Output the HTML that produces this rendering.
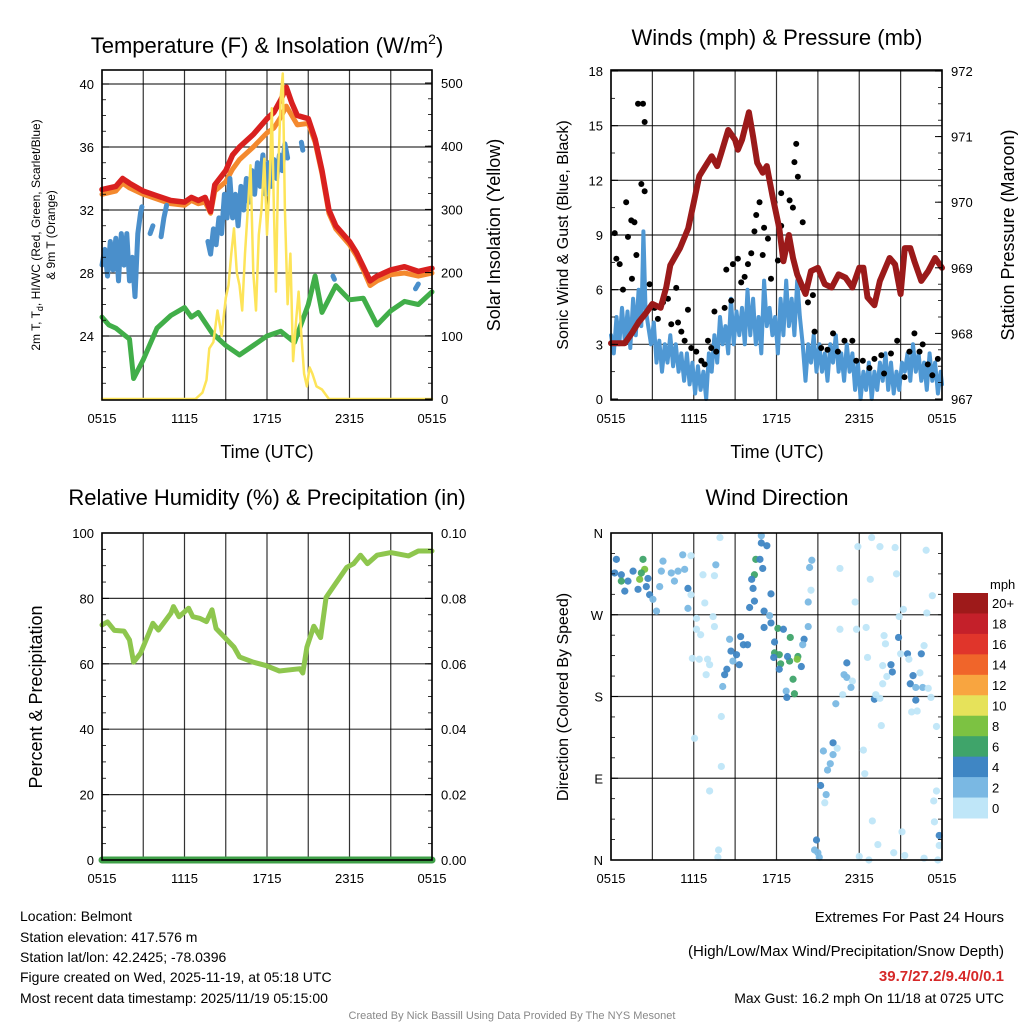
<!DOCTYPE html>
<html><head><meta charset="utf-8"><style>
html,body{margin:0;padding:0;background:#fff}
svg{display:block;font-family:"Liberation Sans",sans-serif}
</style></head><body>
<svg id="c" width="1024" height="1024" viewBox="0 0 1024 1024" xmlns="http://www.w3.org/2000/svg">
<rect width="1024" height="1024" fill="#fff"/>
<g font-size="22" text-anchor="middle" fill="#000">
<text x="267" y="53">Temperature (F) &amp; Insolation (W/m<tspan dy="-9" font-size="14">2</tspan><tspan dy="9">)</tspan></text>
<text x="777" y="45">Winds (mph) &amp; Pressure (mb)</text>
<text x="267" y="505">Relative Humidity (%) &amp; Precipitation (in)</text>
<text x="777" y="505">Wind Direction</text>
</g>
<g font-size="18" text-anchor="middle">
<text x="267" y="458">Time (UTC)</text>
<text x="777" y="458">Time (UTC)</text>
<text transform="translate(43,235) rotate(-90)" font-size="12"><tspan x="0" dy="-3">2m T, T<tspan font-size="9" dy="3">d</tspan><tspan dy="-3">, HI/WC (Red, Green, Scarlet/Blue)</tspan></tspan><tspan x="0" dy="15">&amp; 9m T (Orange)</tspan></text>
<text transform="translate(500,235) rotate(-90)">Solar Insolation (Yellow)</text>
<text transform="translate(568,235) rotate(-90)" font-size="16">Sonic Wind &amp; Gust (Blue, Black)</text>
<text transform="translate(1014,235) rotate(-90)">Station Pressure (Maroon)</text>
<text transform="translate(42,697) rotate(-90)">Percent &amp; Precipitation</text>
<text transform="translate(568,697) rotate(-90)" font-size="16">Direction (Colored By Speed)</text>
</g>
<g id="p1"></g>
<g id="p2"></g>
<g id="p3"></g>
<g id="p4"></g>
<g id="cb"></g>
<g font-size="14" fill="#000">
<text x="20" y="921">Location: Belmont</text>
<text x="20" y="942">Station elevation: 417.576 m</text>
<text x="20" y="962">Station lat/lon: 42.2425; -78.0396</text>
<text x="20" y="982">Figure created on Wed, 2025-11-19, at 05:18 UTC</text>
<text x="20" y="1003">Most recent data timestamp: 2025/11/19 05:15:00</text>
</g>
<g font-size="15" text-anchor="end">
<text x="1004" y="922">Extremes For Past 24 Hours</text>
<text x="1004" y="956">(High/Low/Max Wind/Precipitation/Snow Depth)</text>
<text x="1004" y="981" fill="#d62828" font-weight="bold">39.7/27.2/9.4/0/0.1</text>
<text x="1004" y="1003" font-size="14">Max Gust: 16.2 mph On 11/18 at 0725 UTC</text>
</g>
<text x="512" y="1019" font-size="11" fill="#888" text-anchor="middle">Created By Nick Bassill Using Data Provided By The NYS Mesonet</text>
</svg>
<script>
// ---------- DATA ----------
const xTickLabels = ["0515","1115","1715","2315","0515"];
const tempTicks = [24,28,32,36,40];
const solarTicks = [0,100,200,300,400,500];
const windTicks = [0,3,6,9,12,15,18];
const presTicks = [967,968,969,970,971,972];
const rhTicks = [0,20,40,60,80,100];
const precipTicks = ["0.00","0.02","0.04","0.06","0.08","0.10"];
const dirTickLabels = ["N","E","S","W","N"];
const dirTickValues = [0,90,180,270,360];

const tempTimes = [0,1,1.5,2,3,4,5,6,6.5,7,7.5,7.9,8.2,9,9.5,10,11,12,12.5,13,13.4,13.8,14.2,15,15.5,16,16.5,17,18,18.5,19,19.5,20,21,22,23,24];
const tempValues = [33.3,33.5,34.0,33.7,33.2,32.9,32.6,32.5,32.8,32.6,32.8,31.9,33.6,34.5,35.5,36.0,36.8,37.8,38.2,39.0,39.8,38.8,38.0,37.8,36.5,34.5,32.0,31.0,30.0,29.3,28.4,27.5,27.8,28.2,28.4,28.1,28.3];
const temp9Values = [33.0,33.2,33.7,33.4,33.0,32.7,32.4,32.3,32.6,32.4,32.5,31.8,33.2,33.8,34.6,35.2,36.0,36.9,37.2,37.9,38.6,38.0,37.4,37.5,36.3,34.3,31.8,30.8,29.8,29.1,28.2,27.2,27.5,27.9,28.0,27.8,28.0];
const dewTimes = [0,0.5,1,2,2.3,3,4,5,6,6.5,7,8,9,10,11,12,13,14,15,15.5,16,17,18,19,20,21,22,23,24];
const dewValues = [25.2,24.7,24.5,23.8,21.3,22.5,24.5,25.3,25.8,25.2,25.5,24.2,23.4,22.8,23.4,24.0,24.3,23.6,26.0,27.8,25.5,27.2,26.3,26.4,24.7,25.6,26.2,26.0,26.8];
const hiwcTimes = [0,0.2,0.4,0.6,0.8,1.0,1.2,1.4,1.6,1.8,2.0,2.2,2.4,2.6,2.8,2.9,null,3.5,3.7,null,4.3,4.5,4.7,null,7.7,7.9,8.1,8.3,8.5,8.7,8.9,9.1,9.3,9.5,9.7,9.9,10.1,10.3,10.5,10.7,10.9,11.1,11.3,11.5,11.7,11.9,12.1,12.3,12.5,12.7,12.9,13.1,13.3,13.5,null,14.5,14.6,null,16.8,16.9,null,22.8,23.0];
const hiwcValues = [28.5,29.5,27.8,30,28.2,30.2,27.5,30.5,28.5,30.5,27.5,29,26.5,30.5,31.8,32.2,null,30.5,31.0,null,30.3,31.5,32.3,null,30,29.2,30.8,29.8,31.5,30.5,33,31.5,34,31.5,33,31,33.5,32,34,32.5,34.5,33,35,33.5,35.5,33,35,33.5,35.2,34,35.5,34.5,36.2,35.3,null,36.3,35.8,null,27.8,27.6,null,27.0,27.3];
const solarTimes = [0,6.8,7.3,7.6,7.8,8.1,8.4,8.7,9.0,9.2,9.4,9.6,9.8,10.0,10.2,10.4,10.6,10.8,11.0,11.2,11.4,11.6,11.8,12.0,12.2,12.35,12.5,12.65,12.8,13.0,13.15,13.3,13.5,13.7,13.9,14.1,14.3,14.5,14.7,14.9,15.1,15.3,15.6,16.0,16.5,24];
const solarValues = [0,0,10,30,80,90,140,100,160,180,230,270,200,180,140,230,300,370,200,140,260,300,380,260,350,460,300,170,350,480,515,300,150,230,60,120,170,100,40,20,50,40,20,15,0,0];

const windTimes = [0,0.2,0.4,0.6,0.8,1.0,1.2,1.4,1.6,1.8,2.0,2.2,2.35,2.5,2.7,2.9,3.1,3.3,3.5,3.7,3.9,4.1,4.3,4.5,4.7,4.9,5.1,5.3,5.5,5.7,5.9,6.1,6.3,6.5,6.7,6.9,7.1,7.3,7.5,7.7,7.9,8.1,8.3,8.5,8.7,8.9,9.1,9.3,9.5,9.7,9.9,10.1,10.3,10.5,10.7,10.9,11.1,11.3,11.5,11.7,11.9,12.1,12.3,12.5,12.7,12.9,13.1,13.3,13.5,13.7,13.9,14.1,14.3,14.5,14.7,14.9,15.1,15.3,15.5,15.7,15.9,16.1,16.3,16.5,16.7,16.9,17.1,17.3,17.5,17.7,17.9,18.1,18.3,18.5,18.7,18.9,19.1,19.3,19.5,19.7,19.9,20.1,20.3,20.5,20.7,20.9,21.1,21.3,21.5,21.7,21.9,22.1,22.3,22.5,22.7,22.9,23.1,23.3,23.5,23.7,23.9,24];
const windValues = [3.5,2.5,4.5,3,5,3.2,4.8,2.8,5.5,3.5,6,4,9.2,5,4,3,4.2,2,3.2,1.5,3,2,3.5,1.8,3,1.5,2.5,1,2.5,0.8,2,0.3,1.8,0.5,1.5,0,2.5,1.5,3.5,2,4.5,3,4,2.5,5.5,3,4.8,3.5,5,3,6,3.5,5.5,3,4.5,2.5,6.5,4,5,3.5,4.5,2.5,5.5,3.5,6.5,4,5.5,3.5,6.5,4.5,3,1,3,2,3.5,1.5,3,1.5,2.5,1,3,2,3.5,1.5,2.5,1,3,1.5,2.5,0.5,2,0,1.5,0.5,2,0,1.5,0.5,2,1,2.5,0.5,2,0.3,1.5,0.5,2,1.5,2.5,1,3,1.5,2.5,1,2,0.5,2.5,1,2,0.3,1.5,0.8];
const gustTimes = [0.27,0.39,0.63,0.87,1.1,1.23,1.47,1.7,1.52,1.84,2.2,2.44,1.96,2.32,2.44,2.8,3.16,3.4,3.77,4.13,4.37,4.73,4.86,5.1,5.58,5.34,5.82,6.18,6.55,6.79,7.03,7.27,7.5,7.63,8.24,8.36,8.72,8.84,9.2,9.44,9.69,9.93,10.17,10.4,10.53,10.77,11.0,11.1,11.38,11.6,11.86,12.1,12.34,12.34,12.58,12.95,13.19,13.3,13.43,13.55,13.9,14.28,14.64,14.76,15.24,15.7,16.1,16.45,16.93,17.5,17.78,18.26,18.74,19.1,19.6,19.8,20.3,20.75,21.28,21.64,22.0,22.37,22.6,22.97,23.3,23.7];
const gustValues = [9.1,7.7,7.4,6.0,10.8,8.9,9.8,9.7,6.6,7.9,11.8,11.4,16.2,16.2,15.2,6.3,5.0,4.4,5.3,5.5,4.1,6.1,4.2,3.7,4.9,3.2,2.8,2.6,2.1,1.9,3.2,2.8,4.8,2.6,5.0,7.1,5.4,7.4,7.7,6.4,6.7,7.4,8.0,9.2,10.1,10.8,7.9,9.4,8.8,6.6,10.8,7.6,11.3,9.5,8.2,10.9,10.5,13.0,14.0,12.2,9.7,5.3,5.7,3.7,2.8,2.7,3.6,2.6,3.2,3.2,2.1,2.1,1.7,2.2,2.4,1.4,2.5,3.2,1.2,2.6,3.6,2.6,3.0,1.9,1.3,2.2];
const presTimes = [0,0.5,1,1.5,2,2.5,3,3.6,4,4.3,5,5.6,6,6.4,7,7.3,7.7,8,8.5,9,9.2,9.5,10,10.3,10.6,11,11.3,11.7,12.2,12.5,12.9,13.2,13.5,14.1,14.5,15,15.5,16,16.5,17,17.5,18,18.3,18.6,19.1,19.5,20.2,20.6,21,21.3,21.7,22,22.5,23,23.5,24];
const presValues = [967.85,967.85,967.85,968.0,968.17,968.3,968.45,968.39,968.7,969.04,969.3,969.6,970.0,970.4,970.6,970.7,970.55,970.75,971.1,970.95,970.8,970.95,971.37,971.0,970.6,970.45,970.55,970.1,969.6,969.1,969.5,969.15,968.9,968.6,968.95,969.0,968.75,968.7,968.9,968.85,968.7,969.0,969.0,968.55,968.43,968.8,969.15,969.05,968.6,969.3,969.3,969.1,968.8,968.95,969.15,969.0];

const rhTimes = [0,0.4,0.9,1.6,2,2.3,2.8,3.4,3.7,4.1,5,5.2,5.6,6.3,6.6,7.1,7.6,8,8.3,9.6,10,11,11.9,12.9,14.4,14.6,14.9,15.4,15.9,16.3,16.8,17.8,18.3,18.8,19.3,20,21,22.3,23,24];
const rhValues = [71.9,72.8,70.2,70,67.3,60.5,63.2,69.3,72.4,70.3,75.4,77.5,74.4,77,74.4,73.9,72.9,76.5,70.8,65.1,62.1,60.5,59.5,57.8,58.5,57.2,65.1,71.5,68,80.3,83.4,89.5,90.6,93.2,90.6,93.2,94,93,94.5,94.5];
const precipTimes = [0,24];
const precipValues = [0,0];

const dirTimes = [
0.39,0.27,0.75,1.6,1.23,1.0,1.96,2.56,2.68,2.8,
2.32,2.44,2.08,0.75,2.2,3.77,3.65,4.37,4.86,5.34,
5.2,5.8,4.6,5.58,3.53,3.04,3.3,5.58,5.8,6.67,
7.6,7.5,7.9,6.8,6.2,7.4,6.2,6.5,7.5,5.9,
6.4,7.0,7.15,6.9,8.6,8.7,9.1,9.4,9.6,9.9,
9.3,8.84,8.4,8.24,8.1,8.0,6.06,8.0,7.15,7.8,
7.75,10.9,10.9,11.3,10.5,10.8,11.0,10.4,10.2,10.3,
11.6,10.4,10.05,11.1,11.5,11.6,11.1,12.1,12.5,13.0,
11.86,14.0,13.9,11.86,12.2,12.3,12.95,13.55,13.5,11.8,
12.8,13.8,12.2,13.2,13.3,12.7,12.75,14.56,14.4,14.5,
14.3,14.3,16.6,17.7,16.6,17.8,17.9,18.9,19.5,18.8,
18.5,18.6,17.1,16.9,17.1,17.5,17.4,16.8,16.3,19.1,
19.2,19.5,19.7,19.6,20.6,20.7,21.2,20.9,20.85,19.8,
19.9,21.0,21.5,21.6,20.3,20.4,20.0,19.7,22.85,23.3,
22.9,22.7,22.5,21.9,22.4,21.7,22.1,22.6,23.0,22.1,
23.2,21.8,22.2,23.6,18.3,18.4,15.4,16.1,16.4,16.1,
15.9,15.7,15.2,15.6,15.5,14.9,14.76,15.0,15.1,23.6,
23.4,23.45,23.8,23.8,23.7,18.95,19.35,20.5,21.1,21.3,
22.7,18.0,18.7];
const dirValues = [
331,316,314,318,307,296,298,301,310,292,
331,320,309,307,316,329,318,316,318,320,
336,335,307,299,301,287,274,277,292,314,
325,313,355,283,266,268,254,248,257,222,
221,221,215,204,243,230,226,246,237,237,
215,219,210,204,191,158,134,103,76,11,
3,357,349,346,331,331,321,314,309,299,
293,285,278,274,269,261,256,255,254,245,
240,243,237,228,226,216,219,224,221,223,
224,213,210,199,183,186,179,330,322,297,
284,257,321,284,254,254,345,355,345,309,
256,223,217,204,201,197,190,182,172,177,
182,178,194,148,344,315,276,268,245,247,
238,227,227,221,215,207,202,214,341,291,
272,236,227,203,206,194,190,190,189,176,
179,163,164,147,121,95,120,129,123,116,
106,99,82,72,63,22,11,8,3,76,
65,42,27,16,0,43,17,8,31,5,
2,4,0];
const dirSpeeds = [
4,4,4,4,4,4,4,4,4,4,
6,8,8,6,6,2,2,2,2,2,
2,0,2,4,2,2,2,2,0,0,
2,0,0,0,0,0,0,0,0,0,
0,0,0,0,2,4,4,4,4,4,
4,2,4,4,2,0,0,0,0,0,
0,2,4,4,6,4,4,6,4,4,
4,4,4,4,2,4,4,6,4,6,
4,4,2,6,6,6,6,6,8,4,
4,4,4,6,6,2,4,2,2,0,
2,2,0,0,0,0,0,0,0,0,
0,0,4,2,2,0,2,0,2,4,
0,0,0,0,0,0,0,0,4,0,
0,0,4,0,4,4,0,0,0,0,
0,0,4,4,0,4,2,2,0,4,
0,0,0,0,0,0,2,4,0,2,
2,2,4,2,0,4,2,2,2,0,
0,0,4,0,0,0,0,0,0,0,
0,0,0];

const cbLabels = ["20+","18","16","14","12","10","8","6","4","2","0"];
const cbColors = ["#9e1a1a","#c4202a","#e0352b","#f0652a","#f8a540","#e6e25a","#7cc242","#3fa46a","#3f86c4","#7ab8e3","#bfe6f8"];

// ---------- DRAWING ----------
const NS="http://www.w3.org/2000/svg";
function mk(tag,parent,attrs){const e=document.createElementNS(NS,tag);for(const k in attrs)e.setAttribute(k,attrs[k]);parent.appendChild(e);return e;}
function linScale(d0,d1,r0,r1){return v=>r0+(v-d0)*(r1-r0)/(d1-d0);}
function pathFrom(ts,vs,sx,sy){let d="",pen=false;for(let i=0;i<ts.length;i++){if(ts[i]===null||vs[i]===null||vs[i]===undefined){pen=false;continue;}d+=(pen?"L":"M")+sx(ts[i]).toFixed(1)+","+sy(vs[i]).toFixed(1);pen=true;}return d;}

function frame(g,x0,y0,x1,y1,sx,hgrid){
  for(let h=0;h<=24;h+=3){const x=sx(h);const l=mk("line",g,{x1:x,x2:x,y1:y0,y2:y1,stroke:"#000","stroke-width":1.2,"stroke-opacity":0.8});
    
    }
  hgrid.forEach(y=>{const l=mk("line",g,{x1:x0,x2:x1,y1:y,y2:y,stroke:"#000","stroke-width":1.2,"stroke-opacity":0.8});
    
    });
  xTickLabels.forEach((lab,i)=>{const t=mk("text",g,{x:sx(i*6),y:y1+23,"font-size":13,"text-anchor":"middle"});t.textContent=lab;
    
    });
}
function border(g,x0,y0,x1,y1){const r=mk("rect",g,{x:x0,y:y0,width:x1-x0,height:y1-y0,fill:"none",stroke:"#000","stroke-width":1.6});
  
  }
function leftTicks(g,x0,vals,sy,labels,minorStep,vmin,vmax){
  vals.forEach((v,i)=>{const y=sy(v);mk("line",g,{x1:x0,x2:x0+7,y1:y,y2:y,stroke:"#000"});
    const t=mk("text",g,{x:x0-8,y:y+5,"font-size":13,"text-anchor":"end"});t.textContent=labels?labels[i]:v;
    
    });
  if(minorStep)for(let v=vmin;v<=vmax+1e-9;v+=minorStep){const y=sy(v);mk("line",g,{x1:x0,x2:x0+4,y1:y,y2:y,stroke:"#000","stroke-width":0.8});}
}
function rightTicks(g,x1,vals,sy,labels,minorStep,vmin,vmax){
  vals.forEach((v,i)=>{const y=sy(v);mk("line",g,{x1:x1-7,x2:x1,y1:y,y2:y,stroke:"#000"});
    const t=mk("text",g,{x:x1+9,y:y+5,"font-size":13,"text-anchor":"start"});t.textContent=labels?labels[i]:v;
    
    });
  if(minorStep)for(let v=vmin;v<=vmax+1e-9;v+=minorStep){const y=sy(v);mk("line",g,{x1:x1-4,x2:x1,y1:y,y2:y,stroke:"#000","stroke-width":0.8});}
}
function line(g,d,color,w,name){const p=mk("path",g,{d:d,fill:"none",stroke:color,"stroke-width":w,"stroke-linejoin":"round","stroke-linecap":"round"});
  
  return p;}

// Panel 1
(function(){
  const g=document.getElementById("p1");const X0=102,X1=432,Y0=70,Y1=400;
  const sx=linScale(0,24,X0,X1), sy=linScale(20,40,399,84), ss=linScale(0,500,399,83);
  frame(g,X0,Y0,X1,Y1,sx,tempTicks.map(sy));
  line(g,pathFrom(tempTimes,temp9Values,sx,sy),"#f4892e",5,"temp-9m-line");
  line(g,pathFrom(tempTimes,tempValues,sx,sy),"#d9201f",5.5,"temp-2m-line");
  line(g,pathFrom(hiwcTimes,hiwcValues,sx,sy),"#4a8fcb",5,"heat-index-windchill-line");
  line(g,pathFrom(dewTimes,dewValues,sx,sy),"#41ae49",5,"dewpoint-line");
  line(g,pathFrom(solarTimes,solarValues,sx,ss),"#fde459",2.5,"solar-insolation-line");
  border(g,X0,Y0,X1,Y1);
  leftTicks(g,X0,tempTicks,sy,null,1,21,40);
  rightTicks(g,X1,solarTicks,ss,null,25,0,500);
})();
// Panel 2
(function(){
  const g=document.getElementById("p2");const X0=611,X1=942,Y0=70,Y1=400;
  const sx=linScale(0,24,X0,X1), sy=linScale(0,18,399,71), sp=linScale(967,972,399,71);
  frame(g,X0,Y0,X1,Y1,sx,windTicks.slice(1).map(sy));
  line(g,pathFrom(windTimes,windValues,sx,sy),"#4f98d4",4,"sonic-wind-line");
  gustTimes.forEach((t,i)=>{const c=mk("circle",g,{cx:sx(t),cy:sy(gustValues[i]),r:3,fill:"#000"});
    
    });
  line(g,pathFrom(presTimes,presValues,sx,sp),"#9b1a1a",6,"station-pressure-line");
  border(g,X0,Y0,X1,Y1);
  leftTicks(g,X0,windTicks,sy,null,1.5,0,18);
  rightTicks(g,X1,presTicks,sp,null,0.25,967,972);
})();
// Panel 3
(function(){
  const g=document.getElementById("p3");const X0=102,X1=432,Y0=533,Y1=860;
  const sx=linScale(0,24,X0,X1), sy=linScale(0,100,860,533), sq=linScale(0,0.1,860,533);
  frame(g,X0,Y0,X1,Y1,sx,[20,40,60,80].map(sy));
  line(g,pathFrom(rhTimes,rhValues,sx,sy),"#8ec64e",5,"relative-humidity-line");
  line(g,pathFrom(precipTimes,precipValues,sx,sq),"#3fa048",7,"precipitation-line");
  border(g,X0,Y0,X1,Y1);
  leftTicks(g,X0,rhTicks,sy,null,5,0,100);
  rightTicks(g,X1,[0,0.02,0.04,0.06,0.08,0.1],sq,precipTicks,0.005,0,0.1);
})();
// Panel 4
(function(){
  const g=document.getElementById("p4");const X0=611,X1=942,Y0=533,Y1=860;
  const sx=linScale(0,24,X0,X1), sy=linScale(0,360,860,533);
  frame(g,X0,Y0,X1,Y1,sx,[90,180,270].map(sy));
  const col=s=>cbColors[10-Math.max(0,Math.min(10,Math.round((s||0)/2)))];
  const n=Math.min(dirTimes.length,dirValues.length);
  for(let i=0;i<n;i++){const c=mk("circle",g,{cx:sx(dirTimes[i]),cy:sy(dirValues[i]),r:3.6,fill:col(dirSpeeds[i]),"fill-opacity":0.95});
    
    }
  border(g,X0,Y0,X1,Y1);
  leftTicks(g,X0,dirTickValues,sy,dirTickLabels,22.5,0,360);
  rightTicks(g,X1,[],sy,null,22.5,0,360);
})();
// Colorbar
(function(){
  const g=document.getElementById("cb");const top=593,h=225/11;
  const m=mk("text",g,{x:990,y:589,"font-size":13});m.textContent="mph";
  
  
  cbColors.forEach((c,i)=>{const r=mk("rect",g,{x:953,y:top+i*h,width:35,height:h+0.5,fill:c});
    
    
    const t=mk("text",g,{x:992,y:top+i*h+h/2+5,"font-size":13});t.textContent=cbLabels[i];
    
    });
})();
</script>
</body></html>
